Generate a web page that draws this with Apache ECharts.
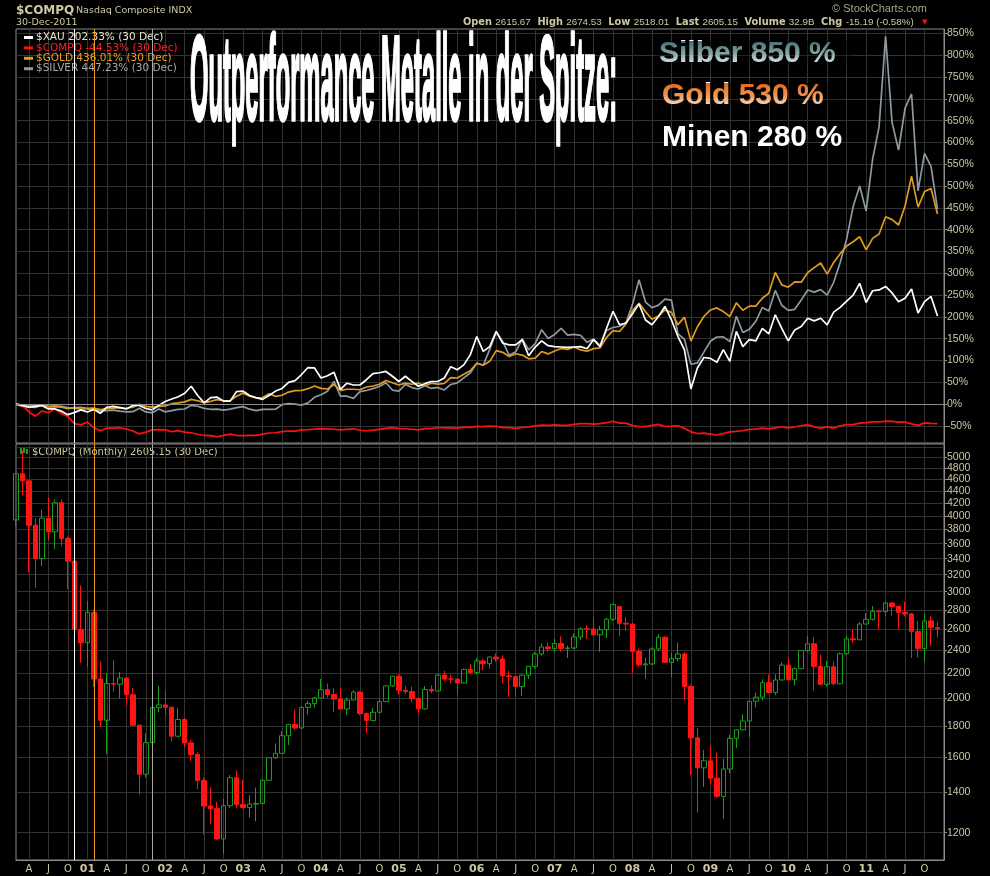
<!DOCTYPE html>
<html>
<head>
<meta charset="utf-8">
<script src="https://cdn.jsdelivr.net/npm/echarts@6/dist/echarts.min.js"></script>
<style>
html,body{margin:0;padding:0;background:#000;}
#chart{width:990px;height:876px;}
</style>
</head>
<body>
<div id="chart"></div>
<script>
// monthly categories Feb 2000 .. Dec 2011, plus an empty Jan 2012 slot at the right edge
var months = [];
for (var yr = 2000; yr <= 2012; yr++) {
	for (var mo = 1; mo <= 12; mo++) {
		if ((yr === 2000 && mo < 2) || (yr === 2012 && mo > 1)) continue;
		months.push(yr + '-' + (mo < 10 ? '0' + mo : mo));
	}
}

// $COMPQ monthly candles
var compqOpen = [
	3940.35,4696.69,4572.83,3860.66,3400.91,3966.11,3766.99,4206.35,3672.82,3369.63,2597.93,
	2470.52,2772.73,2151.83,1840.26,2116.24,2110.49,2160.54,2027.13,1805.43,1498.80,1690.20,1930.58,
	1950.40,1934.03,1731.49,1845.35,1688.23,1615.73,1463.21,1328.26,1314.85,1172.06,1329.75,1478.78,
	1335.51,1320.91,1337.52,1341.17,1464.31,1595.91,1622.80,1735.02,1810.45,1786.94,1932.21,1960.26,
	2003.37,2066.15,2029.82,1994.22,1920.15,1986.74,2047.79,1887.36,1838.10,1896.84,1974.99,2096.81,
	2175.44,2062.41,2051.72,1999.23,1921.65,2068.22,2056.96,2184.83,2152.09,2151.69,2120.30,2232.82,
	2205.32,2305.82,2281.39,2339.79,2322.57,2178.88,2172.09,2091.47,2183.75,2258.43,2366.71,2431.77,
	2415.29,2463.93,2416.15,2421.64,2525.09,2604.52,2603.23,2546.27,2596.36,2701.50,2834.00,2660.96,
	2652.28,2389.86,2271.48,2279.10,2412.80,2522.66,2292.98,2325.55,2367.52,2091.88,1720.95,1535.57,
	1577.03,1476.42,1377.84,1528.59,1717.30,1774.33,1835.04,1978.50,2009.06,2122.42,2045.11,2144.60,
	2269.15,2147.35,2238.26,2397.96,2461.19,2257.04,2109.24,2254.70,2114.03,2368.62,2507.41,2498.23,
	2652.87,2700.08,2782.27,2781.07,2873.54,2835.30,2773.52,2756.38,2579.46,2415.40,2684.41,2615.67
];
var compqHigh = [
	4697,5132,4574,3966,4099,4289,4260,4259,3697,3479,3071,
	2892,2800,2300,2199,2313,2210,2164,2079,1810,1751,1935,2099,
	2059,1935,1929,1857,1707,1631,1480,1426,1351,1365,1493,1521,
	1467,1383,1425,1467,1596,1685,1765,1811,1915,1941,1981,2012,
	2153,2117,2078,2079,2006,2062,2054,1896,1929,1993,2102,2178,
	2191,2096,2093,2009,2096,2102,2192,2220,2187,2157,2239,2278,
	2333,2325,2346,2375,2356,2221,2186,2190,2261,2386,2465,2471,
	2509,2531,2445,2561,2622,2636,2725,2636,2716,2861,2838,2725,
	2661,2419,2334,2426,2552,2535,2380,2473,2384,2107,1787,1645,
	1667,1625,1589,1742,1779,1882,1979,2043,2149,2190,2191,2295,
	2327,2249,2403,2535,2525,2362,2306,2302,2380,2534,2593,2671,
	2764,2841,2797,2888,2877,2836,2887,2768,2683,2758,2733,2674.53
];
var compqLow = [
	3856,4330,3227,3042,3307,3650,3524,3571,3026,2520,2289,
	2251,2089,1794,1619,2051,1998,1948,1801,1387,1480,1679,1897,
	1880,1696,1726,1662,1574,1416,1192,1240,1167,1108,1318,1320,
	1315,1271,1253,1341,1463,1588,1620,1675,1774,1780,1880,1931,
	2003,2006,1897,1918,1878,1985,1876,1751,1838,1890,1970,2090,
	2030,2031,1968,1890,1915,2040,2053,2135,2115,2025,2115,2197,
	2189,2226,2239,2300,2117,2012,2012,2016,2153,2238,2352,2387,
	2386,2389,2331,2411,2495,2503,2539,2387,2513,2683,2531,2587,
	2203,2252,2155,2271,2396,2292,2167,2301,1984,1493,1295,1429,
	1440,1370,1265,1504,1656,1770,1727,1931,1985,2039,2024,2140,
	2139,2100,2235,2384,2061,2102,2091,2101,2110,2364,2468,2495,
	2650,2688,2603,2733,2739,2604,2730,2331,2335,2299,2441,2518.01
];
var compqClose = [
	4696.69,4572.83,3860.66,3400.91,3966.11,3766.99,4206.35,3672.82,3369.63,2597.93,2470.52,
	2772.73,2151.83,1840.26,2116.24,2110.49,2160.54,2027.13,1805.43,1498.80,1690.20,1930.58,1950.40,
	1934.03,1731.49,1845.35,1688.23,1615.73,1463.21,1328.26,1314.85,1172.06,1329.75,1478.78,1335.51,
	1320.91,1337.52,1341.17,1464.31,1595.91,1622.80,1735.02,1810.45,1786.94,1932.21,1960.26,2003.37,
	2066.15,2029.82,1994.22,1920.15,1986.74,2047.79,1887.36,1838.10,1896.84,1974.99,2096.81,2175.44,
	2062.41,2051.72,1999.23,1921.65,2068.22,2056.96,2184.83,2152.09,2151.69,2120.30,2232.82,2205.32,
	2305.82,2281.39,2339.79,2322.57,2178.88,2172.09,2091.47,2183.75,2258.43,2366.71,2431.77,2415.29,
	2463.93,2416.15,2421.64,2525.09,2604.52,2603.23,2546.27,2596.36,2701.50,2859.12,2660.96,2652.28,
	2389.86,2271.48,2279.10,2412.80,2522.66,2292.98,2325.55,2367.52,2091.88,1720.95,1535.57,1577.03,
	1476.42,1377.84,1528.59,1717.30,1774.33,1835.04,1978.50,2009.06,2122.42,2045.11,2144.60,2269.15,
	2147.35,2238.26,2397.96,2461.19,2257.04,2109.24,2254.70,2114.03,2368.62,2507.41,2498.23,2652.87,
	2700.08,2782.27,2781.07,2873.54,2835.30,2773.52,2756.38,2579.46,2415.40,2684.41,2620.34,2605.15
];

// performance since Feb 2000, in %
var xauPct = [
	0,-3,-7,-5,-3,-11,-11,-16,-24,-19,-13,
	-18,-12,-21,-7,-5,-8,-11,-3,-3,-10,-13,-3,
	6,12,17,25,41,20,3,15,16,7,7,29,
	30,20,15,11,20,30,36,50,54,68,84,83,
	60,65,73,34,48,44,44,56,70,72,75,64,
	52,64,52,41,47,52,52,60,86,79,90,113,
	155,121,132,167,140,136,136,148,111,131,145,134,
	132,131,130,131,132,127,148,132,174,213,182,186,
	207,230,193,182,201,224,193,155,125,35,83,107,
	105,96,125,98,167,132,148,145,174,161,205,174,
	145,170,178,197,191,197,182,211,222,236,250,277,
	233,260,262,270,255,235,243,264,209,235,247,202.33
];
var goldPct = [
	0,-5.0,-6.4,-7.4,-1.9,-6.0,-5.7,-7.0,-10.1,-8.1,-7.4,
	-9.4,-9.1,-12.2,-10.1,-9.1,-7.7,-9.4,-7.0,-0.2,-5.0,-6.7,-5.0,
	-4.0,1.1,2.8,5.2,11.0,7.9,3.5,6.6,10.3,7.9,8.3,18.1,
	25.3,18.5,14.1,15.1,23.9,17.8,20.5,27.7,31.1,31.4,35.5,41.6,
	36.2,34.8,45.0,31.8,34.2,34.2,33.1,39.3,41.6,45.7,54.2,49.1,
	44.0,48.1,45.7,48.1,42.3,48.1,46.1,47.4,61.0,60.0,68.5,76.4,
	93.7,89.3,98.2,122.7,118.9,109.1,115.5,112.5,104.0,105.7,120.6,115.2,
	121.7,127.8,125.7,131.2,124.4,121.3,127.4,129.1,153.0,168.6,166.6,184.0,
	214.3,231.0,212.2,194.5,202.0,216.0,210.5,182.3,199.6,144.5,177.5,201.0,
	216.0,220.7,212.2,201.0,232.3,215.3,224.8,224.8,242.9,254.1,301.8,273.5,
	268.1,280.3,279.6,301.8,313.0,323.6,298.0,324.9,345.0,362.7,372.3,383.8,
	353.5,380.1,390.0,429.8,423.0,410.7,454.3,522.7,451.6,487.3,494.5,436.01
];
var silverPct = [
	0,-2.3,-2.7,-3.3,-2.1,-4.9,-3.7,-5.0,-7.6,-9.7,-11.1,
	-11.1,-13.0,-15.3,-14.8,-13.6,-15.9,-17.7,-17.3,-9.1,-17.7,-20.0,-10.9,
	-17.7,-14.8,-11.8,-11.1,-2.7,-4.7,-9.5,-11.7,-11.5,-13.8,-11.5,-8.0,
	-5.6,-11.5,-14.8,-11.8,-12.0,-11.5,-1.0,1.6,0.0,-2.3,2.9,15.7,
	21.6,29.7,52.2,18.6,18.3,13.2,28.7,31.3,35.7,40.4,49.1,32.4,
	29.9,45.4,38.1,34.8,42.9,36.1,38.3,32.6,45.2,48.9,60.4,71.5,
	94.0,89.1,125.6,165.4,143.7,112.0,120.0,149.7,124.7,138.8,170.5,150.5,
	159.8,174.0,158.3,159.8,157.7,141.7,149.1,135.0,168.9,175.7,178.6,186.6,
	228.7,285.0,234.0,221.2,227.0,240.6,238.4,161.0,148.9,91.5,94.8,119.2,
	144.3,154.0,154.4,143.3,201.6,164.3,171.5,189.9,221.6,213.4,260.8,226.8,
	215.1,217.5,239.0,261.7,256.9,262.5,249.9,279.4,324.7,378.8,453.0,500.2,
	442.9,561.4,636.1,843.3,645.4,582.3,678.4,711.1,488.9,574.8,545.0,447.23
];

// axis tick labels
var pctTicks = [-50,0,50,100,150,200,250,300,350,400,450,500,550,600,650,700,750,800,850];
var priceTicks = [1200,1400,1600,1800,2000,2200,2400,2600,2800,3000,3200,3400,3600,3800,4000,4200,4400,4600,4800,5000,5200];

// vertical marker lines (XAU, gold, silver lows)
var markerMonths = ['2000-11','2001-02','2001-11'];
var markerColors = ['#ffffff','#e89a20','#a8a8a8'];

var KHAKI = '#cdc7a3';
var GRID = '#333333';
var FRAME = '#8c8c8c';

var compqPct = compqClose.map(function(c){ return +((c / compqClose[0] - 1) * 100).toFixed(2); });
var candles = compqClose.map(function(c, i){ return [compqOpen[i], c, compqLow[i], compqHigh[i]]; });

function lastOf(a){ return a[a.length - 1].toFixed(2); }
var legendValue = {
	'$XAU': lastOf(xauPct), '$COMPQ': lastOf(compqPct),
	'$GOLD': lastOf(goldPct), '$SILVER': lastOf(silverPct)
};

function isQuarter(idx, val){
	if (idx >= months.length - 1) return false;
	var m = +val.slice(5);
	return m === 1 || m === 4 || m === 7 || m === 10;
}

function markerLines(){
	return markerMonths.map(function(m, i){
		return {xAxis: m, lineStyle: {color: markerColors[i], width: 1, type: 'solid'}};
	});
}

// white text tinted by a multiplied gradient (keeps the black background black)
function tint(x, y, w, h, top, mid, bottom){
	return {type: 'rect', z: 101, silent: true, shape: {x: x, y: y, width: w, height: h},
		style: {blend: 'multiply', fill: new echarts.graphic.LinearGradient(0, 0, 0, 1,
			[{offset: 0, color: top}, {offset: 0.5, color: mid}, {offset: 1, color: bottom}])}};
}

var myChart = echarts.init(document.getElementById('chart'));

var option = {
	backgroundColor: '#000',
	animation: false,
	legend: {
		orient: 'vertical',
		left: 19, top: 27,
		itemWidth: 9, itemHeight: 3, itemGap: -0.6,
		icon: 'rect',
		selectedMode: false,
		textStyle: {fontFamily: 'DejaVu Sans', fontSize: 10.5, lineHeight: 10, padding: [0,0,0,-2]},
		formatter: function(name){ return name + ' ' + legendValue[name] + '% (30 Dec)'; },
		data: [
			{name: '$XAU', textStyle: {color: '#e6e2cc'}},
			{name: '$COMPQ', textStyle: {color: '#ff2222'}},
			{name: '$GOLD', textStyle: {color: '#e8a028'}},
			{name: '$SILVER', textStyle: {color: '#a3abb0'}}
		]
	},
	grid: [
		{left: 16, right: 46, top: 29, height: 414, show: true, borderColor: FRAME, borderWidth: 1, backgroundColor: '#000'},
		{left: 16, right: 46, top: 444, height: 416, show: true, borderColor: FRAME, borderWidth: 1, backgroundColor: '#000'}
	],
	xAxis: [
		{
			gridIndex: 0, type: 'category', data: months, boundaryGap: false,
			axisLine: {show: false}, axisTick: {show: false}, axisLabel: {show: false},
			splitLine: {show: true, interval: isQuarter, lineStyle: {color: GRID}}
		},
		{
			gridIndex: 1, type: 'category', data: months, boundaryGap: false,
			axisLine: {show: true, lineStyle: {color: FRAME}},
			axisTick: {show: false},
			axisLabel: {
				interval: isQuarter, margin: 4, color: KHAKI,
				fontFamily: 'DejaVu Sans', fontSize: 10,
				formatter: function(val){
					var m = +val.slice(5);
					if (m === 1) return '{y|' + val.slice(2, 4) + '}';
					return m === 4 ? 'A' : m === 7 ? 'J' : 'O';
				},
				rich: {y: {fontFamily: 'DejaVu Sans', fontWeight: 'bold', fontSize: 11, color: KHAKI}}
			},
			splitLine: {show: true, interval: isQuarter, lineStyle: {color: GRID}}
		}
	],
	yAxis: [
		{
			gridIndex: 0, type: 'value', position: 'right', min: -89, max: 860, scale: true,
			axisLine: {show: true, lineStyle: {color: FRAME}},
			axisTick: {show: true, length: 3, customValues: pctTicks, lineStyle: {color: FRAME}},
			axisLabel: {customValues: pctTicks, formatter: '{value}%', margin: 3, color: KHAKI,
				fontFamily: 'Liberation Sans', fontSize: 10.5},
			splitLine: {show: true, lineStyle: {color: GRID}}
		},
		{
			gridIndex: 1, type: 'log', logBase: 10, position: 'right', min: 1081.7, max: 5259,
			axisLine: {show: true, lineStyle: {color: FRAME}},
			axisTick: {show: true, length: 3, customValues: priceTicks, lineStyle: {color: FRAME}},
			axisLabel: {customValues: priceTicks, margin: 3, color: KHAKI,
				fontFamily: 'Liberation Sans', fontSize: 10.5,
				formatter: function(v){ return String(Math.round(v)); }},
			splitLine: {show: true, lineStyle: {color: GRID}},
			minorSplitLine: {show: false}
		}
	],
	series: [
		{
			name: '$SILVER', type: 'line', xAxisIndex: 0, yAxisIndex: 0,
			data: silverPct, color: '#8d9aa2', symbol: 'none', lineStyle: {width: 1.7},
			markLine: {
				silent: true, symbol: ['none', 'none'], label: {show: false},
				data: [{yAxis: 0, lineStyle: {color: '#8c8c8c', width: 1, type: 'solid'}}].concat(markerLines())
			}
		},
		{
			name: '$GOLD', type: 'line', xAxisIndex: 0, yAxisIndex: 0,
			data: goldPct, color: '#e09a22', symbol: 'none', lineStyle: {width: 1.7}
		},
		{
			name: '$COMPQ', type: 'line', xAxisIndex: 0, yAxisIndex: 0,
			data: compqPct, color: '#ff1010', symbol: 'none', lineStyle: {width: 1.7}
		},
		{
			name: '$XAU', type: 'line', xAxisIndex: 0, yAxisIndex: 0,
			data: xauPct, color: '#ffffff', symbol: 'none', lineStyle: {width: 1.7}
		},
		{
			name: 'COMPQ Monthly', type: 'candlestick', xAxisIndex: 1, yAxisIndex: 1,
			data: candles, barWidth: 5,
			itemStyle: {color: 'rgba(0,0,0,0)', color0: '#ff1414', borderColor: '#18a018', borderColor0: '#ff1414', borderWidth: 1},
			markLine: {
				silent: true, symbol: ['none', 'none'], label: {show: false},
				data: markerLines()
			}
		}
	],
	graphic: [
		{type: 'text', x: 16, y: 11, style: {text: '$COMPQ', fontFamily: 'DejaVu Sans', fontWeight: 'bold', fontSize: 12, fill: KHAKI, verticalAlign: 'middle'}},
		{type: 'text', x: 76, y: 11, style: {text: 'Nasdaq Composite INDX', fontFamily: 'DejaVu Sans', fontSize: 9.5, fill: KHAKI, verticalAlign: 'middle'}},
		{type: 'text', x: 16, y: 23, style: {text: '30-Dec-2011', fontFamily: 'DejaVu Sans', fontSize: 9.5, fill: KHAKI, verticalAlign: 'middle'}},
		{type: 'text', x: 927, y: 9, style: {text: '\u00a9 StockCharts.com', fontFamily: 'Liberation Sans', fontSize: 11, fill: '#a9a48b', align: 'right', verticalAlign: 'middle'}},
		{type: 'text', x: 463, y: 22, style: {
			text: '{b|Open} {n|2615.67}  {b|High} {n|2674.53}  {b|Low} {n|2518.01}  {b|Last} {n|2605.15}  {b|Volume} {n|32.9B}  {b|Chg} {n|-15.19 (-0.58%)}',
			verticalAlign: 'middle',
			rich: {
				b: {fontFamily: 'DejaVu Sans', fontWeight: 'bold', fontSize: 9.8, fill: KHAKI, color: KHAKI},
				n: {fontFamily: 'Liberation Sans', fontSize: 9.8, fill: KHAKI, color: KHAKI}
			}
		}},
		{type: 'text', x: 922, y: 22, style: {text: '\u25bc', fontFamily: 'DejaVu Sans', fontSize: 7, fill: '#ff1010', verticalAlign: 'middle'}},
		// panel label of the price chart
		{type: 'rect', shape: {x: 20, y: 448, width: 2, height: 6}, style: {fill: '#18a018'}},
		{type: 'rect', shape: {x: 23, y: 447, width: 2, height: 6}, style: {fill: '#18a018'}},
		{type: 'rect', shape: {x: 26, y: 449, width: 2, height: 5}, style: {fill: '#18a018'}},
		{type: 'text', x: 32, y: 452, style: {text: '$COMPQ (Monthly) ' + compqClose[compqClose.length - 1].toFixed(2) + ' (30 Dec)', fontFamily: 'DejaVu Sans', fontSize: 10, fill: KHAKI, verticalAlign: 'middle'}},
		// headline
		{type: 'text', x: 190, y: 86.5, scaleX: 0.593, scaleY: 3.03, z: 100, style: {
			text: 'Outperformance Metalle in der Spitze:', fontFamily: 'Liberation Sans', fontWeight: 'bold', fontSize: 40,
			fill: '#ffffff', stroke: '#ffffff', lineWidth: 1.2, verticalAlign: 'middle'
		}},
		{type: 'text', x: 659, y: 54, z: 100, style: {
			text: 'Silber 850 %', fontFamily: 'Liberation Sans', fontWeight: 'bold', fontSize: 30, verticalAlign: 'middle', fill: '#ffffff'
		}},
		tint(655, 41, 198, 26, '#436f70', '#88a8a8', '#ffffff'),
		{type: 'text', x: 662, y: 95.6, z: 100, style: {
			text: 'Gold 530 %', fontFamily: 'Liberation Sans', fontWeight: 'bold', fontSize: 30, verticalAlign: 'middle', fill: '#ffffff'
		}},
		tint(658, 83, 180, 26, '#e0661a', '#f09a58', '#fff4ea'),
		{type: 'text', x: 662, y: 137.3, z: 100, style: {
			text: 'Minen 280 %', fontFamily: 'Liberation Sans', fontWeight: 'bold', fontSize: 30, verticalAlign: 'middle', fill: '#ffffff'
		}}
	]
};
myChart.setOption(option);
</script>
</body>
</html>
